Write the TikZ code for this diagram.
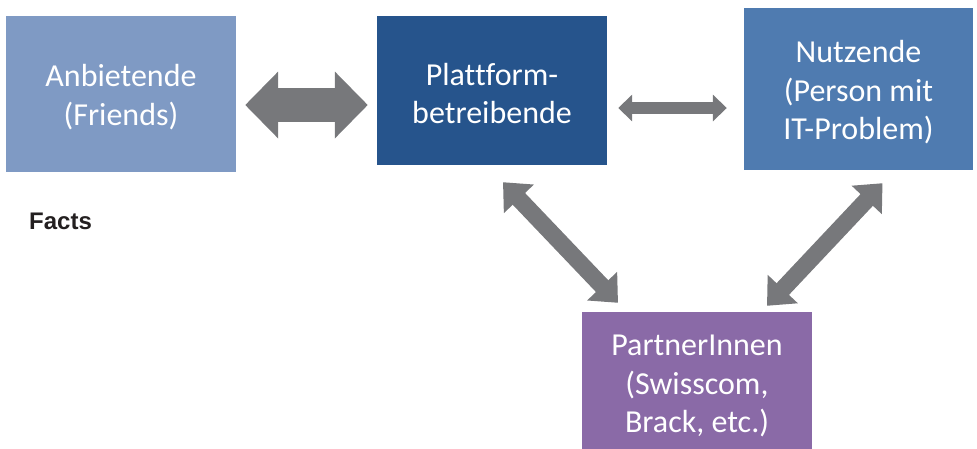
\documentclass[tikz,border=0pt]{standalone}
\usepackage{fontspec}
\setmainfont[Ligatures=NoCommon]{Carlito}
\newfontfamily\factsfont{Liberation Sans}
\usetikzlibrary{arrows.meta}

\definecolor{anbieterblue}{HTML}{7F9AC4}
\definecolor{betreiberblue}{HTML}{26548C}
\definecolor{nutzerblue}{HTML}{4F7BB0}
\definecolor{partnerviolet}{HTML}{8A6AA7}
\definecolor{arrowgray}{HTML}{77787B}
\definecolor{labelblack}{HTML}{231F20}

\tikzset{
  rolebox/.style={draw=none, inner sep=0pt},
  roletext/.style={inner sep=0pt, text=white, align=center,
    font=\fontsize{32}{38.5}\selectfont},
  bigarrow/.style={draw=arrowgray, line width=34pt,
    {Triangle[length=33pt,width=65pt]}-{Triangle[length=33pt,width=65pt]}},
  thinarrow/.style={draw=arrowgray, line width=12pt,
    {Triangle[length=14pt,width=26pt]}-{Triangle[length=14pt,width=26pt]}},
  diagarrow/.style={draw=arrowgray, line width=17pt,
    {Triangle[length=23pt,width=40pt]}-{Triangle[length=23pt,width=40pt]}},
}

\begin{document}
\begin{tikzpicture}[x=1pt,y=-1pt]
  \useasboundingbox (0,0) rectangle (977,448);

  % the four roles
  \node[rolebox, fill=anbieterblue, minimum width=230pt, minimum height=156pt]
    (anb) at (121,94) {};
  \node[rolebox, fill=betreiberblue, minimum width=230pt, minimum height=149pt]
    (plt) at (492,90.5) {};
  \node[rolebox, fill=nutzerblue, minimum width=229pt, minimum height=162pt]
    (nutz) at (858.5,89) {};
  \node[rolebox, fill=partnerviolet, minimum width=230pt, minimum height=142pt]
    (part) at (697,383) {};

  % their names (yshift is in page units, so negative moves down)
  \node[roletext] (anbtext) at ([yshift=-3pt]anb.center) {Anbietende\\(Friends)};
  \node[roletext] (plttext) at ([yshift=-3pt]plt.center) {Plattform-\\betreibende};
  \node[roletext] (nutztext) at ([yshift=-3.5pt]nutz.center) {Nutzende\\(Person mit\\IT-Problem)};
  \node[roletext] (parttext) at ([yshift=-3pt]part.center) {PartnerInnen\\(Swisscom,\\Brack, etc.)};

  % label
  \node[anchor=base west, inner sep=0pt, text=labelblack,
    font=\factsfont\bfseries\fontsize{24}{29}\selectfont]
    (facts) at (29,229) {Facts};

  % relations
  \draw[bigarrow] ([shift={(9,11)}]anb.east) -- ([shift={(-9,14.5)}]plt.west);
  \draw[thinarrow] ([shift={(11,17.5)}]plt.east) -- ([shift={(-17,19)}]nutz.west);
  \draw[diagarrow] ([shift={(11,17)}]plt.south) -- ([shift={(-79,-9)}]part.north);
  \draw[diagarrow] ([shift={(24,13)}]nutz.south) -- ([shift={(70,-6)}]part.north);
\end{tikzpicture}
\end{document}
